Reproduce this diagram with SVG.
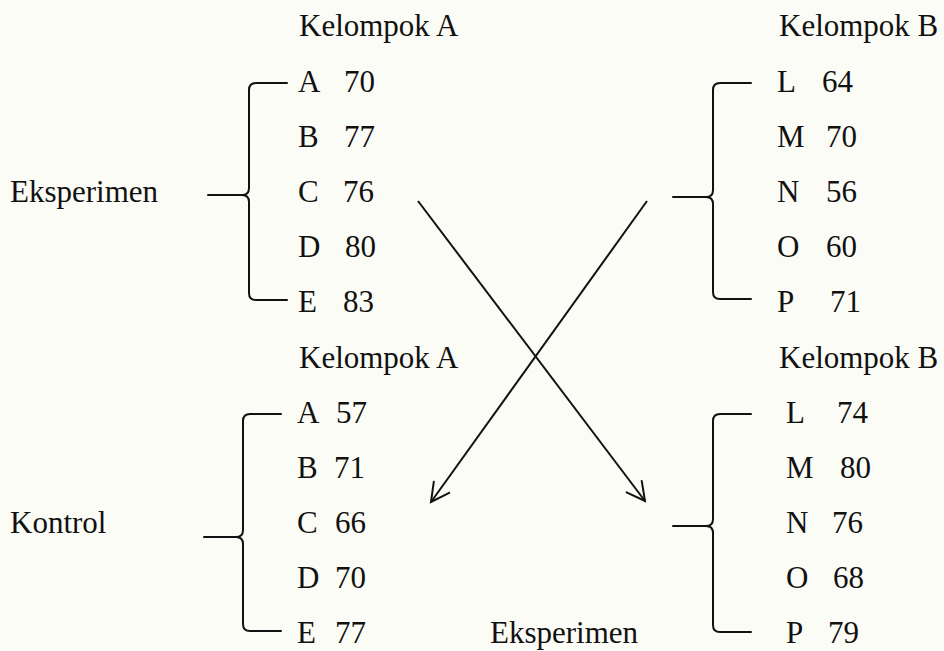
<svg xmlns="http://www.w3.org/2000/svg" width="944" height="651" viewBox="0 0 944 651">
  <style>
    .bg { fill: #fcfcf6; }
    text { font-family: "Liberation Serif", "Times New Roman", serif; font-size: 31px; fill: #111; }
    .brace { fill: none; stroke: #111; stroke-width: 2; stroke-linecap: round; stroke-linejoin: round; }
    .conn { fill: none; stroke: #111; stroke-width: 2; }
  </style>
  <defs>
    <marker id="arrow" markerUnits="userSpaceOnUse" markerWidth="24" markerHeight="24" viewBox="-20 -12 24 24" refX="0" refY="0" orient="auto">
      <path d="M -18 -9.5 L 0 0 L -18 9.5" fill="none" stroke="#111" stroke-width="2" stroke-linecap="round" stroke-linejoin="miter"/>
    </marker>
  </defs>

  <rect class="bg" x="0" y="0" width="944" height="651"/>

  <!-- Group A, experiment phase -->
  <g id="group-a-experiment">
    <text x="299" y="36">Kelompok A</text>
    <text x="10" y="202">Eksperimen</text>
    <path class="brace" d="M 287 83 L 256 83 Q 249 83 249 90 L 249 188 Q 249 195 242 195 Q 249 195 249 202 L 249 293 Q 249 300 256 300 L 287 300 M 208 195 L 242 195"/>
    <text x="298" y="92">A</text><text x="344" y="92">70</text>
    <text x="298" y="147">B</text><text x="344" y="147">77</text>
    <text x="298" y="202">C</text><text x="343" y="202">76</text>
    <text x="298" y="257">D</text><text x="345" y="257">80</text>
    <text x="298" y="312">E</text><text x="343" y="312">83</text>
  </g>

  <!-- Group B, first phase -->
  <g id="group-b-first">
    <text x="779" y="36">Kelompok B</text>
    <path class="brace" d="M 751 83 L 720 83 Q 713 83 713 90 L 713 190 Q 713 197 706 197 Q 713 197 713 204 L 713 292 Q 713 299 720 299 L 751 299 M 673 197 L 706 197"/>
    <text x="777" y="92">L</text><text x="822" y="92">64</text>
    <text x="777" y="147">M</text><text x="826" y="147">70</text>
    <text x="777" y="202">N</text><text x="826" y="202">56</text>
    <text x="777" y="257">O</text><text x="826" y="257">60</text>
    <text x="777" y="312">P</text><text x="830" y="312">71</text>
  </g>

  <!-- Group A, control phase -->
  <g id="group-a-control">
    <text x="299" y="368">Kelompok A</text>
    <text x="10" y="533">Kontrol</text>
    <path class="brace" d="M 281 414 L 250 414 Q 243 414 243 421 L 243 530 Q 243 537 236 537 Q 243 537 243 544 L 243 624 Q 243 631 250 631 L 281 631 M 204 537 L 236 537"/>
    <text x="297" y="423">A</text><text x="336" y="423">57</text>
    <text x="297" y="478">B</text><text x="334" y="478">71</text>
    <text x="297" y="533">C</text><text x="335" y="533">66</text>
    <text x="297" y="588">D</text><text x="335" y="588">70</text>
    <text x="297" y="643">E</text><text x="335" y="643">77</text>
  </g>

  <!-- Group B, experiment phase -->
  <g id="group-b-experiment">
    <text x="779" y="368">Kelompok B</text>
    <text x="490" y="643">Eksperimen</text>
    <path class="brace" d="M 751 414 L 720 414 Q 713 414 713 421 L 713 519 Q 713 526 706 526 Q 713 526 713 533 L 713 625 Q 713 632 720 632 L 751 632 M 673 526 L 706 526"/>
    <text x="786" y="423">L</text><text x="837" y="423">74</text>
    <text x="786" y="478">M</text><text x="840" y="478">80</text>
    <text x="786" y="533">N</text><text x="832" y="533">76</text>
    <text x="786" y="588">O</text><text x="833" y="588">68</text>
    <text x="786" y="643">P</text><text x="828" y="643">79</text>
  </g>

  <!-- Crossover arrows -->
  <g id="connectors">
    <line class="conn" x1="418" y1="201" x2="645" y2="501" marker-end="url(#arrow)"/>
    <line class="conn" x1="647" y1="201" x2="431" y2="502" marker-end="url(#arrow)"/>
  </g>
</svg>
